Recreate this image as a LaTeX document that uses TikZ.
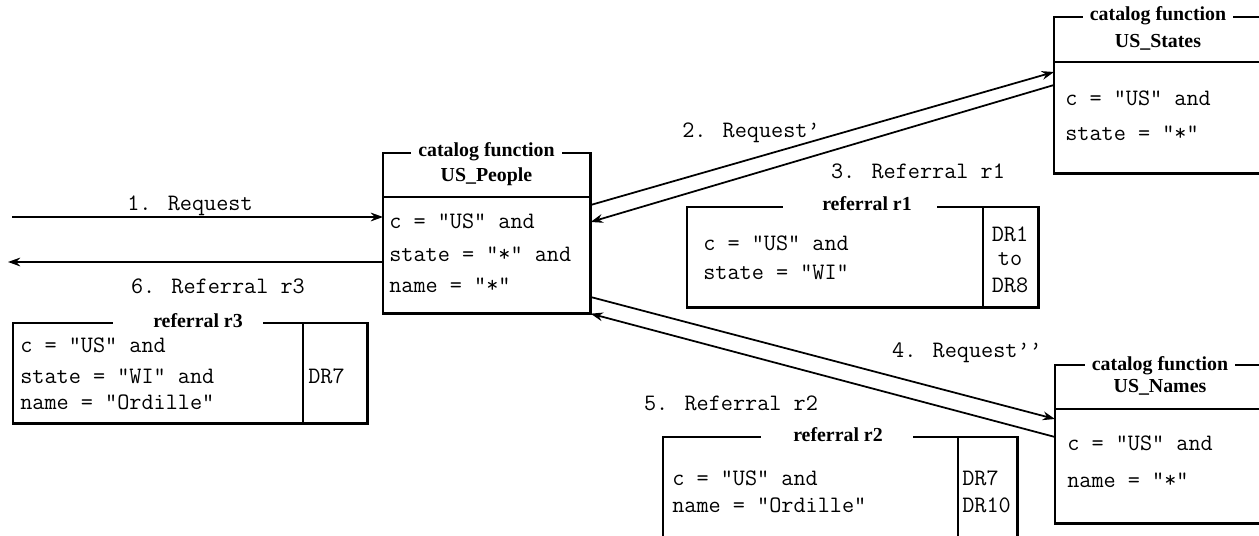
\documentclass[tikz,border=0pt]{standalone}
\usepackage{fontspec}
\setmainfont{Liberation Serif}
\usetikzlibrary{arrows.meta,calc}
\begin{document}
\begin{tikzpicture}[x=0.02cm,y=-0.02cm,
  mono/.style={font=\ttfamily\fontsize{13.4}{16}\selectfont, inner sep=0pt, text height=8.3pt, text depth=2.4pt, anchor=west},
  lbl/.style={font=\ttfamily\fontsize{13.4}{16}\selectfont, inner sep=0pt, text height=8.3pt, text depth=2.4pt},
  ttl/.style={font=\bfseries\fontsize{11.3}{13}\selectfont, inner sep=0pt, text height=7.8pt, text depth=2.5pt},
  area/.style={inner sep=0pt, anchor=north west},
  frame/.style={line width=1.5pt},
  sep/.style={line width=1.2pt},
  conn/.style={line width=1pt, -{Stealth[length=7pt,width=5pt]}},
]
\useasboundingbox (0,0) rectangle (1259,536);
\clip (0,0) rectangle (1259,536);

% ---------- catalog function boxes ----------
\node[area, minimum width=4.14cm, minimum height=3.2cm] (people) at (383,153) {};
\node[ttl] (ptitle) at (486.5,152) {catalog function};
\node[ttl] (pname) at (486.5,177) {US\_People};
\draw[frame] ($(ptitle.west |- people.north)+(-7,0)$) -- (people.north west) -- (people.south west) -- (people.south east) -- (people.north east) -- ($(ptitle.east |- people.north)+(7,0)$);
\draw[sep] ($(people.north west)+(0,44)$) -- ($(people.north east)+(0,44)$);
\node[mono] (p1) at (389,223) {c = "US" and};
\node[mono] (p2) at (389,256) {state = "*" and};
\node[mono] (p3) at (389,287) {name = "*"};

\node[area, minimum width=4.16cm, minimum height=3.12cm] (states) at (1054,17) {};
\node[ttl] (stitle) at (1158,16) {catalog function};
\node[ttl] (sname) at (1158,43) {US\_States};
\draw[frame] ($(stitle.west |- states.north)+(-7,0)$) -- (states.north west) -- (states.south west) -- (states.south east) -- (states.north east) -- ($(stitle.east |- states.north)+(7,0)$);
\draw[sep] ($(states.north west)+(0,45)$) -- ($(states.north east)+(0,45)$);
\node[mono] (s1) at (1065,100) {c = "US" and};
\node[mono] (s2) at (1065,135) {state = "*"};

\node[area, minimum width=4.2cm, minimum height=3.16cm] (names) at (1055,365) {};
\node[ttl] (ntitle) at (1160,366) {catalog function};
\node[ttl] (nname) at (1160,388) {US\_Names};
\draw[frame] ($(ntitle.west |- names.north)+(-7,0)$) -- (names.north west) -- (names.south west) -- (names.south east) -- (names.north east) -- ($(ntitle.east |- names.north)+(7,0)$);
\draw[sep] ($(names.north west)+(0,44)$) -- ($(names.north east)+(0,44)$);
\node[mono] (n1) at (1067,445) {c = "US" and};
\node[mono] (n2) at (1067,482) {name = "*"};

% ---------- referral boxes ----------
\node[area, minimum width=7.08cm, minimum height=2.0cm] (r3) at (13,323) {};
\node[ttl] (r3t) at (198,323) {referral r3};
\draw[frame] ($(r3t.west |- r3.north)+(-40,0)$) -- (r3.north west) -- (r3.south west) -- (r3.south east) -- (r3.north east) -- ($(r3t.east |- r3.north)+(20,0)$);
\draw[frame] ($(r3.north west)+(290,0)$) -- ($(r3.south west)+(290,0)$);
\node[mono] (a1) at (20,347) {c = "US" and};
\node[mono] (a2) at (20,378) {state = "WI" and};
\node[mono] (a3) at (20,404) {name = "Ordille"};
\node[mono] (a4) at (308,378) {DR7};

\node[area, minimum width=7.02cm, minimum height=2.0cm] (r1) at (687,207) {};
\node[ttl] (r1t) at (867,206) {referral r1};
\draw[frame] ($(r1t.west |- r1.north)+(-39,0)$) -- (r1.north west) -- (r1.south west) -- (r1.south east) -- (r1.north east) -- ($(r1t.east |- r1.north)+(25,0)$);
\draw[frame] ($(r1.north west)+(296,0)$) -- ($(r1.south west)+(296,0)$);
\node[mono] (b1) at (703,245) {c = "US" and};
\node[mono] (b2) at (703,274) {state = "WI"};
\node[lbl] (b3) at (1010,236) {DR1};
\node[lbl] (b4) at (1010,260) {to};
\node[lbl] (b5) at (1010,287) {DR8};

\node[area, minimum width=7.08cm, minimum height=2.06cm] (r2) at (663,437) {};
\node[ttl] (r2t) at (838,437) {referral r2};
\draw[frame] ($(r2t.west |- r2.north)+(-32,0)$) -- (r2.north west) -- (r2.south west) -- (r2.south east) -- (r2.north east) -- ($(r2t.east |- r2.north)+(30,0)$);
\draw[frame] ($(r2.north west)+(295,0)$) -- ($(r2.south west)+(295,0)$);
\node[mono] (c1) at (672,480) {c = "US" and};
\node[mono] (c2) at (672,507) {name = "Ordille"};
\node[mono] (c3) at (962,480) {DR7};
\node[mono] (c4) at (962,507) {DR10};

% ---------- connectors ----------
\coordinate (client) at (12,217);
\coordinate (clientback) at (8,262);
\draw[conn] (client) -- ($(people.north west)+(0,64)$);
\draw[conn] ($(people.north west)+(0,109)$) -- (clientback);
\draw[conn] ($(people.north east)+(0,52)$) -- ($(states.north west)+(0,55)$);
\draw[conn] ($(states.north west)+(0,68)$) -- ($(people.north east)+(0,69)$);
\draw[conn] ($(people.north east)+(0,144)$) -- ($(names.north west)+(0,54)$);
\draw[conn] ($(names.north west)+(0,72)$) -- (people.south east);

% ---------- connector labels ----------
\node[lbl] (l1) at (190,205) {1. Request};
\node[lbl] (l6) at (218,288) {6. Referral r3};
\node[lbl] (l2) at (751,132) {2. Request’};
\node[lbl] (l3) at (918,173) {3. Referral r1};
\node[lbl] (l4) at (967,352) {4. Request’’};
\node[lbl] (l5) at (731,405) {5. Referral r2};
\end{tikzpicture}
\end{document}
